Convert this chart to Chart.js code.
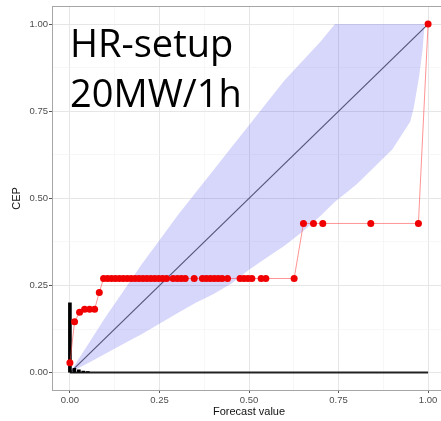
<!DOCTYPE html>
<html lang="en">

<head>
    <meta charset="UTF-8">
    <title>CEP reliability</title>
    <script src="https://cdn.jsdelivr.net/npm/chart.js"></script>
    <style>
        html, body { margin: 0; padding: 0; overflow: hidden; background: #fff; }
        #wrap { position: relative; width: 450px; height: 421px; }
        #myChart { display: block; }
        #label {
            position: absolute; left: 70px; top: 17px;
            font-family: "Open Sans", "Noto Sans", sans-serif;
            font-size: 38px; line-height: 50px; color: #000;
        }
    </style>
</head>

<body>
    <div id="wrap">
        <canvas id="myChart" width="450" height="421"></canvas>
        <div id="label">HR-setup<br>20MW/1h</div>
    </div>
    <script>
        // ticks
        const majorTicks = [0, 0.25, 0.5, 0.75, 1];
        const minorTicks = [0.125, 0.375, 0.625, 0.875];
        const edgeTicks = [-0.05, 1.05];

        // confidence band (lower / upper bound of CEP)
        const bandX = [0, 0.05, 0.1, 0.15, 0.2, 0.25, 0.3, 0.35, 0.4, 0.45, 0.5, 0.55, 0.6, 0.65, 0.7, 0.74, 0.8, 0.85, 0.9, 0.95, 0.96, 0.975, 0.985, 0.99];
        const bandHigh = [0, 0.08, 0.16, 0.235, 0.31, 0.38, 0.45, 0.515, 0.58, 0.645, 0.71, 0.775, 0.84, 0.895, 0.95, 1, 1, 1, 1, 1, 1, 1, 1, 1];
        const bandLow = [0, 0.027, 0.055, 0.083, 0.11, 0.14, 0.17, 0.2, 0.225, 0.255, 0.295, 0.33, 0.365, 0.405, 0.45, 0.49, 0.54, 0.59, 0.64, 0.72, 0.76, 0.85, 0.93, 1];

        // diagonal (perfect reliability)
        const diagX = [0, 1];
        const diagY = [0, 1];

        // CEP estimate (red)
        const cepX = [0, 0.013, 0.027, 0.041, 0.055, 0.069, 0.082,
            0.094, 0.105, 0.116, 0.127, 0.138, 0.149, 0.16, 0.171, 0.182, 0.193, 0.204, 0.215, 0.226, 0.237, 0.248, 0.259, 0.27,
            0.288, 0.3, 0.311, 0.322, 0.347,
            0.37, 0.381, 0.392, 0.403, 0.414, 0.425, 0.44,
            0.475, 0.486, 0.497, 0.508, 0.534, 0.547, 0.626,
            0.652, 0.68, 0.706, 0.84, 0.973, 1];
        const cepY = [0.028, 0.146, 0.173, 0.182, 0.182, 0.182, 0.23,
            0.27, 0.27, 0.27, 0.27, 0.27, 0.27, 0.27, 0.27, 0.27, 0.27, 0.27, 0.27, 0.27, 0.27, 0.27, 0.27, 0.27,
            0.27, 0.27, 0.27, 0.27, 0.27,
            0.27, 0.27, 0.27, 0.27, 0.27, 0.27, 0.27,
            0.27, 0.27, 0.27, 0.27, 0.27, 0.27, 0.27,
            0.428, 0.428, 0.428, 0.428, 0.428, 1];

        // histogram of forecast values (black)
        const histX = [0, 0.0125, 0.025, 0.0375, 0.05];
        const histY = [0.2, 0.012, 0.008, 0.004, 0.003];
        const baseX = [0, 1];
        const baseY = [0, 0];

        function pts(xs, ys) {
            return xs.map((x, i) => ({ x: x, y: ys[i] }));
        }

        const allTicks = edgeTicks.concat(majorTicks, minorTicks).sort((a, b) => a - b);

        function gridColor(c) {
            const v = c.tick.value;
            if (edgeTicks.includes(v)) return '#a6a6a6';
            if (majorTicks.includes(v)) return '#e6e6e6';
            return '#f3f3f3';
        }
        function gridWidth(c) {
            return minorTicks.includes(c.tick.value) ? 0.7 : 1;
        }
        function tickColor(c) {
            return majorTicks.includes(c.tick.value) ? '#555' : 'rgba(0,0,0,0)';
        }

        function axis(isX) {
            return {
                type: 'linear',
                min: -0.05,
                max: 1.05,
                offset: false,
                afterBuildTicks: s => { s.ticks = allTicks.map(v => ({ value: v })); },
                afterFit: s => { if (isX) s.height = 31; else s.width = 52; },
                ticks: {
                    autoSkip: false, maxRotation: 0, padding: isX ? 2 : 1,
                    color: '#4d4d4d',
                    font: { family: 'Liberation Sans', size: 9.5 },
                    callback: v => majorTicks.includes(v) ? v.toFixed(2) : ''
                },
                grid: { offset: false, color: gridColor, lineWidth: gridWidth, tickLength: 3, tickColor: tickColor, tickWidth: 1 },
                border: { display: true, color: '#a6a6a6', width: 1 },
                title: {
                    display: true,
                    text: isX ? 'Forecast value' : 'CEP',
                    color: '#111',
                    font: { family: 'Liberation Sans', size: 11 },
                    padding: isX ? { top: 0, bottom: 2.4 } : { top: 10, bottom: 0 }
                }
            };
        }

        const ctx = document.getElementById('myChart');
        const mychart = new Chart(ctx, {
            type: 'scatter',
            data: {
                datasets: [
                    {
                        type: 'line', label: 'CEP', data: pts(cepX, cepY), order: 0,
                        borderColor: 'rgba(255, 60, 60, 0.55)', borderWidth: 1,
                        pointRadius: 3.5, pointBackgroundColor: '#f00000', pointBorderWidth: 0,
                        showLine: true, fill: false
                    },
                    {
                        type: 'bar', label: 'hist', data: pts(histX, histY), order: 1,
                        backgroundColor: '#000', barThickness: 3
                    },
                    {
                        type: 'line', label: 'base', data: pts(baseX, baseY), order: 1,
                        borderColor: '#222', borderWidth: 2, pointRadius: 0, showLine: true, fill: false
                    },
                    {
                        type: 'line', label: 'diag', data: pts(diagX, diagY), order: 2,
                        borderColor: '#55557a', borderWidth: 1.2, pointRadius: 0, showLine: true, fill: false
                    },
                    {
                        type: 'line', label: 'low', data: pts(bandX, bandLow), order: 3,
                        borderWidth: 0, borderColor: 'rgba(0,0,0,0)', pointRadius: 0, showLine: true, fill: false
                    },
                    {
                        type: 'line', label: 'high', data: pts(bandX, bandHigh), order: 4,
                        borderWidth: 0, borderColor: 'rgba(0,0,0,0)', pointRadius: 0, showLine: true,
                        fill: { target: 4 }, backgroundColor: 'rgba(40, 40, 235, 0.19)'
                    }
                ]
            },
            options: {
                responsive: false,
                animation: false,
                layout: { padding: { top: 3, right: 4, left: 0, bottom: 0 } },
                plugins: { legend: { display: false }, tooltip: { enabled: false } },
                scales: { x: axis(true), y: axis(false) }
            }
        });
    </script>
</body>

</html>
